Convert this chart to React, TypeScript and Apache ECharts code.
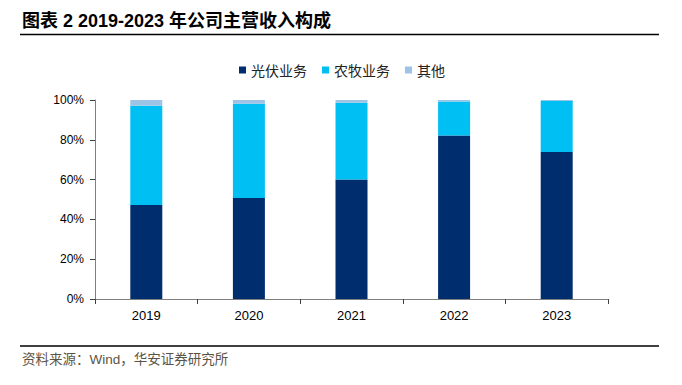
import React, { useEffect, useRef } from "react";
import * as echarts from "echarts";

const categories = ["2019", "2020", "2021", "2022", "2023"];
const seriesNames = ["光伏业务", "农牧业务", "其他"];
const pvValues = [47.2, 50.8, 60.0, 82.1, 73.9];
const agriValues = [49.9, 47.3, 38.6, 17.1, 25.6];
const otherValues = [2.9, 1.9, 1.4, 0.8, 0.5];
const colors = ["#002D6E", "#00BFF3", "#9DC3E6"];
const titleText = "图表 2 2019-2023 年公司主营收入构成";
const sourceText = "资料来源：Wind，华安证券研究所";

const FONT = "'Liberation Sans', Arial, 'Noto Sans CJK SC', sans-serif";

export default function App() {
  const ref = useRef<HTMLDivElement>(null);
  useEffect(() => {
    if (!ref.current) return;
    const chart = echarts.init(ref.current, null, { renderer: "svg" });
    const values = [pvValues, agriValues, otherValues];
    chart.setOption({
      animation: false,
      backgroundColor: "#ffffff",
      textStyle: { fontFamily: FONT },
      legend: {
        top: 58,
        left: 234,
        itemWidth: 7,
        itemHeight: 7,
        itemGap: 15,
        icon: "rect",
        textStyle: { fontSize: 14, color: "#222", fontFamily: "'Noto Sans CJK SC', sans-serif" },
        data: seriesNames,
      },
      grid: { left: 95, right: 74, top: 100, bottom: 86, containLabel: false },
      xAxis: {
        type: "category",
        data: categories,
        axisLine: { lineStyle: { color: "#7f7f7f", width: 1 } },
        axisTick: { show: true, length: 5, lineStyle: { color: "#404040" } },
        axisLabel: { fontSize: 13, color: "#000", margin: 10, fontFamily: FONT },
      },
      yAxis: {
        type: "value",
        min: 0,
        max: 100,
        interval: 20,
        splitLine: { show: false },
        axisLine: { show: true, lineStyle: { color: "#7f7f7f", width: 1 } },
        axisTick: { show: true, length: 5, lineStyle: { color: "#404040" } },
        axisLabel: { formatter: "{value}%", fontSize: 12, color: "#000", margin: 11, fontFamily: FONT },
      },
      series: seriesNames.map((name, i) => ({
        name,
        type: "bar",
        stack: "total",
        barWidth: 32,
        data: values[i],
        itemStyle: { color: colors[i] },
      })),
      graphic: [
        {
          type: "text",
          left: 22,
          top: 12,
          style: {
            text: titleText,
            fontSize: 18,
            fontWeight: "bold",
            fill: "#000",
            fontFamily: FONT,
          },
        },
        {
          type: "line",
          shape: { x1: 20, y1: 34.5, x2: 659, y2: 34.5 },
          style: { stroke: "#000", lineWidth: 1.5 },
        },
        {
          type: "line",
          shape: { x1: 20, y1: 346, x2: 659, y2: 346 },
          style: { stroke: "#000", lineWidth: 1.5 },
        },
        {
          type: "text",
          left: 22,
          top: 353,
          style: {
            text: sourceText,
            fontSize: 13.5,
            fill: "#5b5445",
            fontFamily: FONT,
          },
        },
      ],
    });
    return () => chart.dispose();
  }, []);
  return <div ref={ref} style={{ width: 682, height: 385, position: "absolute", left: 0, top: 0 }} />;
}
